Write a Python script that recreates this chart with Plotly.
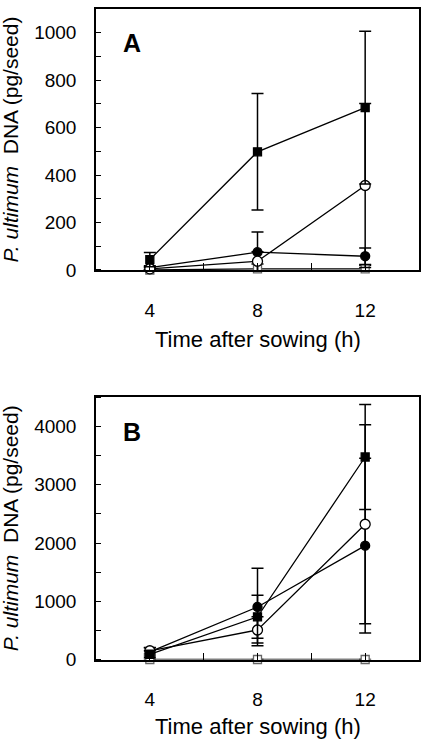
import plotly.graph_objects as go

# ---------------- data ----------------
time_h = [4, 8, 12]

# Panel A (pg/seed)
a_sq_filled = [44, 498, 684]
a_sq_filled_err = [30, 245, 322]
a_circ_filled = [10, 75, 58]
a_circ_filled_err = [8, 85, 35]
a_circ_open = [5, 37, 356]
a_circ_open_err = [5, 40, 345]
a_sq_open = [0, 5, 5]
a_sq_open_err = [0, 20, 15]

# Panel B (pg/seed)
b_sq_filled = [90, 733, 3477]
b_sq_filled_err = [60, 370, 900]
b_circ_filled = [130, 902, 1955]
b_circ_filled_err = [70, 665, 1500]
b_circ_open = [150, 507, 2322]
b_circ_open_err = [55, 225, 1707]
b_sq_open = [0, 0, 0]
b_sq_open_err = [0, 0, 0]

x_tickvals = [2, 4, 6, 8, 10, 12, 14]
x_ticktext = ["", "4", "", "8", "", "12", ""]

W, H = 423, 752
FONT = "Liberation Sans, Arial, sans-serif"

fig = go.Figure()

def add_series(y, err, xa, ya, symbol, fill, size, lc="black"):
    fig.add_trace(go.Scatter(
        x=time_h, y=y, xaxis=xa, yaxis=ya, mode="lines+markers",
        line=dict(color="black", width=1.3),
        marker=dict(symbol=symbol, size=size, color=fill,
                    line=dict(color=lc, width=1.3)),
        error_y=dict(type="data", array=err, visible=True, color="black",
                     thickness=1.5, width=6),
        cliponaxis=False, showlegend=False, hoverinfo="skip"))

for xa, ya, data in [
    ("x", "y", [(a_sq_open, a_sq_open_err), (a_circ_filled, a_circ_filled_err),
                (a_circ_open, a_circ_open_err), (a_sq_filled, a_sq_filled_err)]),
    ("x2", "y2", [(b_sq_open, b_sq_open_err), (b_circ_filled, b_circ_filled_err),
                  (b_circ_open, b_circ_open_err), (b_sq_filled, b_sq_filled_err)]),
]:
    add_series(data[0][0], data[0][1], xa, ya, "square", "white", 8, lc="#666")
    add_series(data[1][0], data[1][1], xa, ya, "circle", "black", 9)
    add_series(data[2][0], data[2][1], xa, ya, "circle", "white", 10)
    add_series(data[3][0], data[3][1], xa, ya, "square", "black", 8)

xdom = [96 / W, 419 / W]
ydomA = [1 - 274 / H, 1 - 9 / H]
ydomB = [1 - 669.3 / H, 1 - 403.3 / H]

xaxis_common = dict(
    range=[2, 14], tickvals=x_tickvals, ticktext=x_ticktext,
    ticks="inside", ticklen=7, tickwidth=1.2, tickcolor="black",
    showline=True, linecolor="black", linewidth=1.5, mirror=True,
    showgrid=False, zeroline=False, domain=xdom,
    tickfont=dict(family=FONT, size=19, color="black"),
    ticklabelstandoff=22,
)

yaxis_common = dict(
    ticks="", showline=True, linecolor="black", linewidth=1.5, mirror=True,
    showgrid=False, zeroline=False,
    tickfont=dict(family=FONT, size=19, color="black"),
    ticklabelstandoff=14,
)

fig.update_layout(
    width=W, height=H, margin=dict(l=0, r=0, t=0, b=0),
    paper_bgcolor="white", plot_bgcolor="white",
    xaxis=dict(**xaxis_common, anchor="y"),
    xaxis2=dict(**xaxis_common, anchor="y2"),
    yaxis=dict(**yaxis_common, range=[0, 1100], domain=ydomA, anchor="x",
               tickvals=[0, 200, 400, 600, 800, 1000],
               minor=dict(dtick=100, tick0=0, ticks="inside", ticklen=5,
                          tickcolor="black", tickwidth=1.2, showgrid=False)),
    yaxis2=dict(**yaxis_common, range=[0, 4500], domain=ydomB, anchor="x2",
                tickvals=[0, 1000, 2000, 3000, 4000],
                minor=dict(dtick=500, tick0=0, ticks="inside", ticklen=5,
                           tickcolor="black", tickwidth=1.2, showgrid=False)),
    font=dict(family=FONT, color="black"),
)

ytitle = "<i>P. ultimum</i>&nbsp; DNA (pg/seed)"
anns = [
    dict(text="<b>A</b>", x=132 / W, y=1 - 44 / H, font=dict(size=25)),
    dict(text="<b>B</b>", x=132 / W, y=1 - 438 / H, font=dict(size=25)),
    dict(text=ytitle, x=10 / W, y=1 - 141.5 / H, textangle=-90, font=dict(size=21)),
    dict(text=ytitle, x=10 / W, y=1 - 536 / H, textangle=-90, font=dict(size=21)),
    dict(text="Time after sowing (h)", x=258 / W, y=1 - 345 / H, font=dict(size=22)),
    dict(text="Time after sowing (h)", x=258 / W, y=1 - 737.5 / H, font=dict(size=22)),
]
for a in anns:
    a.update(xref="paper", yref="paper", showarrow=False,
             xanchor="center", yanchor="middle")
    a["font"].update(family=FONT, color="black")
fig.update_layout(annotations=anns)

fig.write_html("out.html",
               config={"displayModeBar": False},
               post_script="document.body.style.margin='0';"
                           "document.body.style.overflow='hidden';")
